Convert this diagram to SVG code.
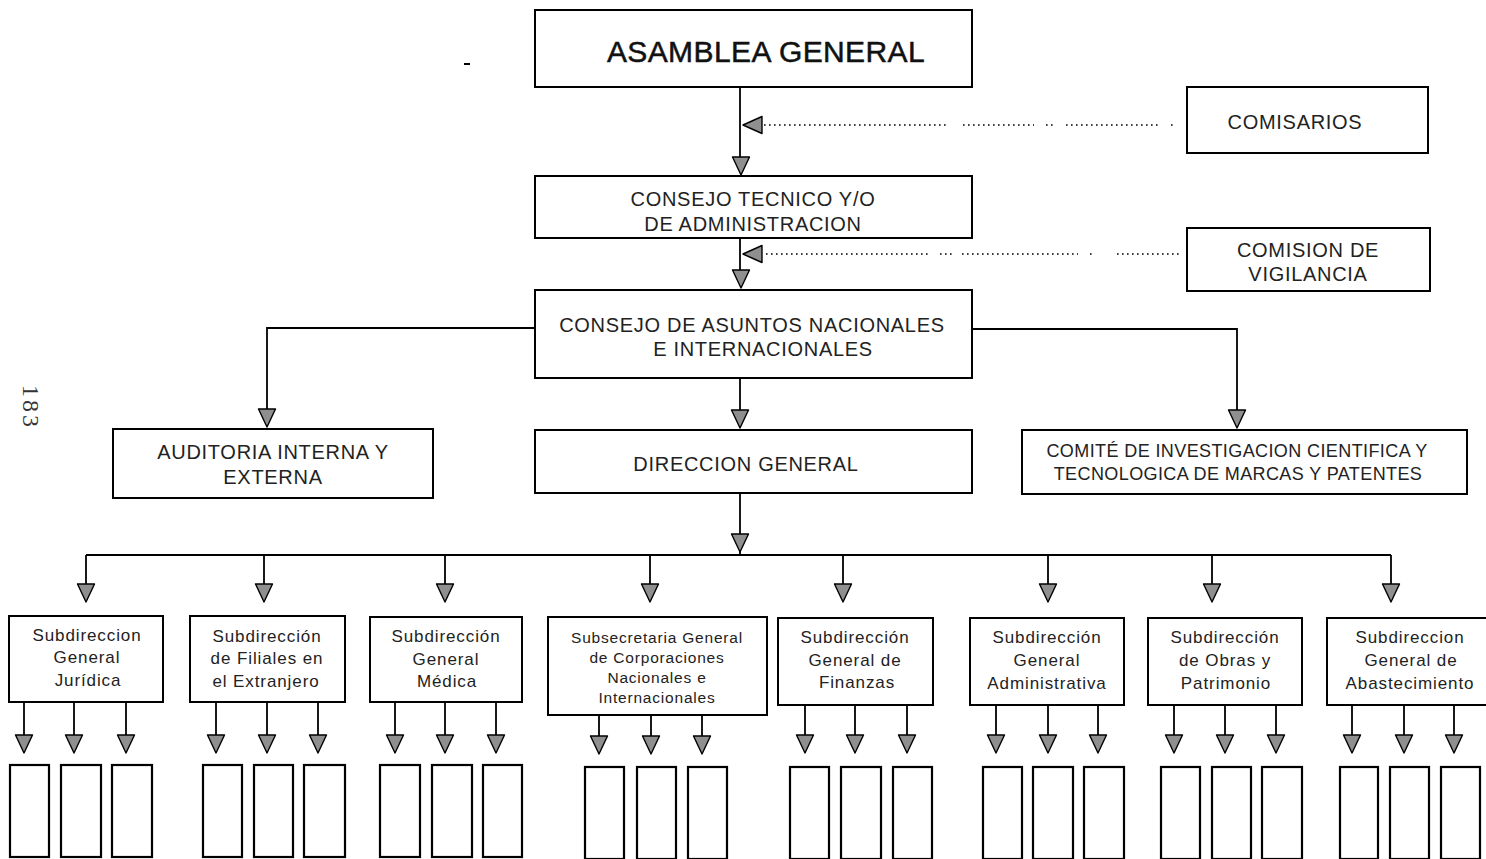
<svg xmlns="http://www.w3.org/2000/svg" xmlns:xlink="http://www.w3.org/1999/xlink" width="1486" height="859" viewBox="0 0 1486 859">
<style>
.box{fill:#fff;stroke:#000;stroke-width:2}
.leaf{fill:#fff;stroke:#000;stroke-width:2.2}
.ln{fill:none;stroke:#000;stroke-width:1.8}
.dot{fill:none;stroke:#000;stroke-width:1.6;stroke-dasharray:1.6 3.4}
.t{font-family:"Liberation Sans",Arial,sans-serif;fill:#222;text-anchor:middle}
.big{font-size:30px;letter-spacing:0.4px;fill:#111;stroke:#111;stroke-width:0.5}
.up{font-size:20px;letter-spacing:0.7px}
.cm{font-size:18px;letter-spacing:0.4px}
.sb{font-size:17px;letter-spacing:0.9px}
.ss{font-size:15.5px;letter-spacing:0.8px}
.pg{font-family:"Liberation Serif","Times New Roman",serif;font-size:24px;letter-spacing:3px;fill:#333}
</style>
<defs>
<path id="ad" d="M-8.5,-18 L8.5,-18 L0,0 Z" fill="#8f8f8f" stroke="#000" stroke-width="1.4" stroke-linejoin="round"/>
<path id="al" d="M0,0 L19,-8.5 L19,8.5 Z" fill="#8f8f8f" stroke="#000" stroke-width="1.4" stroke-linejoin="round"/>
</defs>
<rect width="1486" height="859" fill="#fff"/>
<line x1="464" y1="64" x2="470" y2="64" stroke="#000" stroke-width="2"/>
<text class="pg" transform="translate(23,385) rotate(90)">183</text>

<g id="connectors">
<line class="ln" x1="740" y1="87" x2="740" y2="157"/>
<use xlink:href="#ad" x="741" y="175"/>
<line class="ln" x1="740" y1="238" x2="740" y2="270"/>
<use xlink:href="#ad" x="741" y="288"/>
<line class="dot" x1="764" y1="125" x2="946" y2="125"/>
<line class="dot" x1="963" y1="125" x2="1034" y2="125"/>
<line class="dot" x1="1046" y1="125" x2="1055" y2="125"/>
<line class="dot" x1="1066" y1="125" x2="1160" y2="125"/>
<line class="dot" x1="1171" y1="125" x2="1174" y2="125"/>
<use xlink:href="#al" x="743" y="125"/>
<line class="dot" x1="766" y1="254" x2="930" y2="254"/>
<line class="dot" x1="940" y1="254" x2="954" y2="254"/>
<line class="dot" x1="962" y1="254" x2="1078" y2="254"/>
<line class="dot" x1="1090" y1="254" x2="1093" y2="254"/>
<line class="dot" x1="1117" y1="254" x2="1180" y2="254"/>
<use xlink:href="#al" x="743" y="254"/>
<path class="ln" d="M535,328 H267 V410"/>
<use xlink:href="#ad" x="267" y="427"/>
<path class="ln" d="M972,329 H1237 V412"/>
<use xlink:href="#ad" x="1237" y="428"/>
<line class="ln" x1="740" y1="378" x2="740" y2="410"/>
<use xlink:href="#ad" x="740" y="428"/>
<line class="ln" x1="740" y1="493" x2="740" y2="555"/>
<use xlink:href="#ad" x="740" y="552"/>
<line class="ln" x1="86" y1="555" x2="1391" y2="555"/>
<path class="ln" d="M86,555 V584 M264,555 V584 M445,555 V584 M650,555 V584 M843,555 V584 M1048,555 V584 M1212,555 V584 M1391,555 V584"/>
<use xlink:href="#ad" x="86" y="602"/>
<use xlink:href="#ad" x="264" y="602"/>
<use xlink:href="#ad" x="445" y="602"/>
<use xlink:href="#ad" x="650" y="602"/>
<use xlink:href="#ad" x="843" y="602"/>
<use xlink:href="#ad" x="1048" y="602"/>
<use xlink:href="#ad" x="1212" y="602"/>
<use xlink:href="#ad" x="1391" y="602"/>
<path class="ln" d="M24,702 V736 M74,702 V736 M126,702 V736 M216,702 V736 M267,702 V736 M318,702 V736 M395,702 V736 M445,702 V736 M496,702 V736 M599,715 V736 M651,715 V736 M702,715 V736 M805,705 V736 M855,705 V736 M907,705 V736 M996,705 V736 M1048,705 V736 M1098,705 V736 M1174,705 V736 M1225,705 V736 M1276,705 V736 M1352,705 V736 M1404,705 V736 M1454,705 V736"/>
<use xlink:href="#ad" x="24" y="753"/><use xlink:href="#ad" x="74" y="753"/><use xlink:href="#ad" x="126" y="753"/>
<use xlink:href="#ad" x="216" y="753"/><use xlink:href="#ad" x="267" y="753"/><use xlink:href="#ad" x="318" y="753"/>
<use xlink:href="#ad" x="395" y="753"/><use xlink:href="#ad" x="445" y="753"/><use xlink:href="#ad" x="496" y="753"/>
<use xlink:href="#ad" x="599" y="754"/><use xlink:href="#ad" x="651" y="754"/><use xlink:href="#ad" x="702" y="754"/>
<use xlink:href="#ad" x="805" y="753"/><use xlink:href="#ad" x="855" y="753"/><use xlink:href="#ad" x="907" y="753"/>
<use xlink:href="#ad" x="996" y="753"/><use xlink:href="#ad" x="1048" y="753"/><use xlink:href="#ad" x="1098" y="753"/>
<use xlink:href="#ad" x="1174" y="753"/><use xlink:href="#ad" x="1225" y="753"/><use xlink:href="#ad" x="1276" y="753"/>
<use xlink:href="#ad" x="1352" y="753"/><use xlink:href="#ad" x="1404" y="753"/><use xlink:href="#ad" x="1454" y="753"/>
</g>

<g id="asamblea"><rect class="box" x="535" y="10" width="437" height="77"/><text class="t big" x="766" y="62">ASAMBLEA GENERAL</text></g>
<g id="comisarios"><rect class="box" x="1187" y="87" width="241" height="66"/><text class="t up" x="1295" y="129">COMISARIOS</text></g>
<g id="consejo-tecnico"><rect class="box" x="535" y="176" width="437" height="62"/><text class="t up" x="753" y="206">CONSEJO TECNICO Y/O</text><text class="t up" x="753" y="231">DE ADMINISTRACION</text></g>
<g id="comision-vigilancia"><rect class="box" x="1187" y="228" width="243" height="63"/><text class="t up" x="1308" y="257">COMISION DE</text><text class="t up" x="1308" y="281">VIGILANCIA</text></g>
<g id="consejo-asuntos"><rect class="box" x="535" y="290" width="437" height="88"/><text class="t up" x="752" y="332">CONSEJO DE ASUNTOS NACIONALES</text><text class="t up" x="763" y="356">E INTERNACIONALES</text></g>
<g id="auditoria"><rect class="box" x="113" y="429" width="320" height="69"/><text class="t up" x="273" y="459">AUDITORIA INTERNA Y</text><text class="t up" x="273" y="484">EXTERNA</text></g>
<g id="direccion-general"><rect class="box" x="535" y="430" width="437" height="63"/><text class="t up" x="746" y="471">DIRECCION GENERAL</text></g>
<g id="comite"><rect class="box" x="1022" y="430" width="445" height="64"/><text class="t cm" x="1237" y="457">COMITÉ DE INVESTIGACION CIENTIFICA Y</text><text class="t cm" x="1238" y="480">TECNOLOGICA DE MARCAS Y PATENTES</text></g>

<g id="sub-juridica"><rect class="box" x="9" y="616" width="154" height="86"/><text class="t sb" x="87" y="641">Subdireccion</text><text class="t sb" x="87" y="663">General</text><text class="t sb" x="88" y="686">Jurídica</text></g>
<g id="sub-filiales"><rect class="box" x="190" y="616" width="155" height="86"/><text class="t sb" x="267" y="642">Subdirección</text><text class="t sb" x="267" y="664">de Filiales en</text><text class="t sb" x="266" y="687">el Extranjero</text></g>
<g id="sub-medica"><rect class="box" x="370" y="617" width="152" height="85"/><text class="t sb" x="446" y="642">Subdirección</text><text class="t sb" x="446" y="665">General</text><text class="t sb" x="447" y="687">Médica</text></g>
<g id="sub-corporaciones"><rect class="box" x="548" y="617" width="219" height="98"/><text class="t ss" x="657" y="643">Subsecretaria General</text><text class="t ss" x="657" y="663">de Corporaciones</text><text class="t ss" x="657" y="683">Nacionales e</text><text class="t ss" x="657" y="703">Internacionales</text></g>
<g id="sub-finanzas"><rect class="box" x="778" y="618" width="155" height="87"/><text class="t sb" x="855" y="643">Subdirección</text><text class="t sb" x="855" y="666">General de</text><text class="t sb" x="857" y="688">Finanzas</text></g>
<g id="sub-administrativa"><rect class="box" x="970" y="618" width="154" height="87"/><text class="t sb" x="1047" y="643">Subdirección</text><text class="t sb" x="1047" y="666">General</text><text class="t sb" x="1047" y="689">Administrativa</text></g>
<g id="sub-obras"><rect class="box" x="1148" y="618" width="154" height="87"/><text class="t sb" x="1225" y="643">Subdirección</text><text class="t sb" x="1225" y="666">de Obras y</text><text class="t sb" x="1226" y="689">Patrimonio</text></g>
<g id="sub-abastecimiento"><rect class="box" x="1327" y="618" width="165" height="87"/><text class="t sb" x="1410" y="643">Subdireccion</text><text class="t sb" x="1411" y="666">General de</text><text class="t sb" x="1410" y="689">Abastecimiento</text></g>

<g id="u1a"><rect class="leaf" x="10" y="765" width="39" height="92"/></g>
<g id="u1b"><rect class="leaf" x="61" y="765" width="40" height="92"/></g>
<g id="u1c"><rect class="leaf" x="112" y="765" width="40" height="92"/></g>
<g id="u2a"><rect class="leaf" x="203" y="765" width="39" height="92"/></g>
<g id="u2b"><rect class="leaf" x="254" y="765" width="39" height="92"/></g>
<g id="u2c"><rect class="leaf" x="304" y="765" width="41" height="92"/></g>
<g id="u3a"><rect class="leaf" x="380" y="765" width="40" height="92"/></g>
<g id="u3b"><rect class="leaf" x="432" y="765" width="40" height="92"/></g>
<g id="u3c"><rect class="leaf" x="483" y="765" width="39" height="92"/></g>
<g id="u4a"><rect class="leaf" x="585" y="767" width="39" height="92"/></g>
<g id="u4b"><rect class="leaf" x="637" y="767" width="39" height="92"/></g>
<g id="u4c"><rect class="leaf" x="688" y="767" width="39" height="92"/></g>
<g id="u5a"><rect class="leaf" x="790" y="767" width="39" height="92"/></g>
<g id="u5b"><rect class="leaf" x="841" y="767" width="40" height="92"/></g>
<g id="u5c"><rect class="leaf" x="893" y="767" width="39" height="92"/></g>
<g id="u6a"><rect class="leaf" x="983" y="767" width="39" height="92"/></g>
<g id="u6b"><rect class="leaf" x="1033" y="767" width="40" height="92"/></g>
<g id="u6c"><rect class="leaf" x="1084" y="767" width="40" height="92"/></g>
<g id="u7a"><rect class="leaf" x="1161" y="767" width="39" height="92"/></g>
<g id="u7b"><rect class="leaf" x="1212" y="767" width="39" height="92"/></g>
<g id="u7c"><rect class="leaf" x="1262" y="767" width="40" height="92"/></g>
<g id="u8a"><rect class="leaf" x="1340" y="767" width="38" height="92"/></g>
<g id="u8b"><rect class="leaf" x="1390" y="767" width="39" height="92"/></g>
<g id="u8c"><rect class="leaf" x="1441" y="767" width="39" height="92"/></g>
</svg>
